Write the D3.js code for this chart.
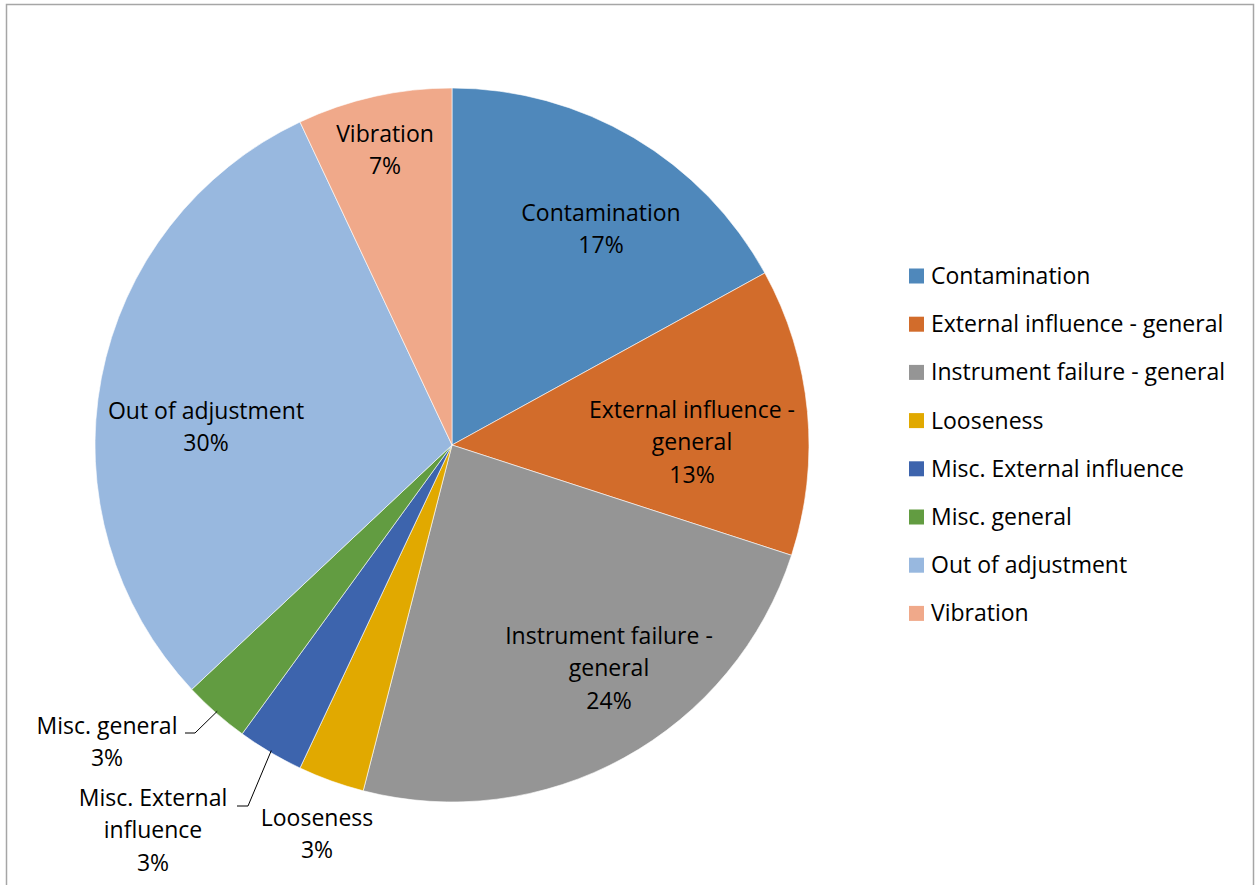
<!DOCTYPE html>
<html>
<head>
<meta charset="utf-8">
<script src="https://cdn.jsdelivr.net/npm/d3@7"></script>
<style>
  html, body { margin: 0; padding: 0; background: #fff; }
  svg { display: block; }
  text { font-family: "Open Sans", Lato, sans-serif; fill: #000; }
</style>
</head>
<body>
<svg id="chart" width="1255" height="885"></svg>
<script>
// Failure causes and their share (%)
const categories = [
  "Contamination",
  "External influence - general",
  "Instrument failure - general",
  "Looseness",
  "Misc. External influence",
  "Misc. general",
  "Out of adjustment",
  "Vibration"
];
const shares = [17, 13, 24, 3, 3, 3, 30, 7];
const sliceColors = ["#4F88BB", "#D26C2B", "#959595", "#E1A900", "#3D64AD", "#629C41", "#98B8DF", "#F0A98A"];

// Label text lines for each slice (wrapped as drawn)
const labelLines = [
  ["Contamination"],
  ["External influence -", "general"],
  ["Instrument failure -", "general"],
  ["Looseness"],
  ["Misc. External", "influence"],
  ["Misc. general"],
  ["Out of adjustment"],
  ["Vibration"]
];

const W = 1255, H = 885;
const cx = 452, cy = 445, R = 357;
const fontSize = 23, lineH = 32.3;

const svg = d3.select("#chart");

// Chart frame
svg.append("rect")
  .attr("x", 6.5).attr("y", 4.5)
  .attr("width", 1247).attr("height", 900)
  .attr("fill", "none").attr("stroke", "#A6A6A6").attr("stroke-width", 1.5);

const data = categories.map((c, i) => ({ name: c, value: shares[i], color: sliceColors[i], lines: labelLines[i] }));

const pie = d3.pie().value(d => d.value).sort(null);
const arcs = pie(data);
const arc = d3.arc().innerRadius(0).outerRadius(R);

const g = svg.append("g").attr("transform", `translate(${cx},${cy})`);

g.selectAll("path.slice")
  .data(arcs)
  .join("path")
  .attr("class", "slice")
  .attr("d", arc)
  .attr("fill", d => d.data.color)
  .attr("stroke", "#fff")
  .attr("stroke-width", 0.6);

// Label placement: big slices carry their labels inside; the three small
// slices get outside labels, two of them with leader lines.
const outside = {
  "Looseness": { pos: [317, 818], leader: null },
  "Misc. External influence": { pos: [153, 798], leader: [[237, 806], [248, 806]] },
  "Misc. general": { pos: [107, 726], leader: [[185, 733], [195, 733]] }
};
const insidePos = {
  "Contamination": [601, 213],
  "External influence - general": [692, 410],
  "Instrument failure - general": [609, 636],
  "Out of adjustment": [206, 411],
  "Vibration": [385, 134]
};

arcs.forEach(a => {
  const d = a.data;
  const p = outside[d.name] ? outside[d.name].pos : insidePos[d.name];
  const x = p[0] - cx, y = p[1] - cy;
  const lines = d.lines.concat([d.value + "%"]);
  const t = g.append("text")
    .attr("text-anchor", "middle")
    .attr("font-size", fontSize);
  lines.forEach((ln, i) => {
    t.append("tspan")
      .attr("x", x)
      .attr("y", y + i * lineH)
      .attr("dy", "0.35em")
      .text(ln);
  });
  const o = outside[d.name];
  if (o && o.leader) {
    // leader line runs from the label to the slice's outer edge
    const mid = (a.startAngle + a.endAngle) / 2;
    const edge = [Math.sin(mid) * (R - 2) + cx, -Math.cos(mid) * (R - 2) + cy];
    const pts = o.leader.concat([edge]);
    svg.append("path")
      .attr("d", d3.line()(pts))
      .attr("fill", "none")
      .attr("stroke", "#000")
      .attr("stroke-width", 1);
  }
});

// Legend
const legend = svg.append("g").attr("transform", "translate(909,276)");
const rowH = 48.2;
const items = legend.selectAll("g.item")
  .data(data)
  .join("g")
  .attr("class", "item")
  .attr("transform", (d, i) => `translate(0,${i * rowH})`);
items.append("rect")
  .attr("x", 0).attr("y", -7.5)
  .attr("width", 15).attr("height", 15)
  .attr("fill", d => d.color);
items.append("text")
  .attr("x", 22).attr("y", 0).attr("dy", "0.35em")
  .attr("font-size", fontSize)
  .text(d => d.name);
</script>
</body>
</html>
